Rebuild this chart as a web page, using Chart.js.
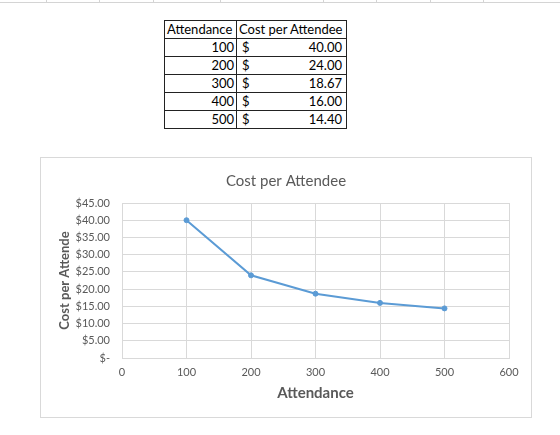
<!DOCTYPE html>
<html>
<head>
<meta charset="utf-8">
<script src="https://cdn.jsdelivr.net/npm/chart.js@4.4.1/dist/chart.umd.min.js"></script>
<style>
    body { margin: 0; background: #fff; width: 560px; height: 435px; overflow: hidden; position: relative; font-family: Lato, 'Open Sans', sans-serif; }
    .sheet-top { position: absolute; left: 0; top: 0; width: 560px; height: 2px; border-bottom: 1px solid #d4d4d4; }
    .sheet-top i { position: absolute; top: 0; width: 1px; height: 2px; background: #d4d4d4; }
    table { position: absolute; left: 164px; top: 20px; border-collapse: collapse; font-size: 13px; color: #000; }
    td { border: 1px solid #222; height: 17px; padding: 0 2px; line-height: 17px; white-space: nowrap; }
    td.att { width: 67px; text-align: right; }
    td.cost { width: 100px; padding-left: 5px; padding-right: 4px; }
    td.cost .cur { float: left; }
    td.cost .val { float: right; }
    .chart-box { position: absolute; left: 40px; top: 157px; width: 490px; height: 259px; border: 1px solid #d9d9d9; background: #fff; }
</style>
</head>
<body>
<div class="sheet-top" id="sheetTop"></div>
<table id="dataTable"></table>
<div class="chart-box">
    <canvas id="costChart" width="490" height="259"></canvas>
</div>
<script>
// Chart data
const attendance = [100, 200, 300, 400, 500];
const costPerAttendee = [40.00, 24.00, 18.67, 16.00, 14.40];
const xTicks = [0, 100, 200, 300, 400, 500, 600];
const yTicks = [0, 5, 10, 15, 20, 25, 30, 35, 40, 45];
const chartTitle = 'Cost per Attendee';

const lineColor = '#5B9BD5';
const textColor = '#595959';
const gridColor = '#D9D9D9';

// Spreadsheet column separators along the top edge
const colEdges = [46, 99, 153, 220, 323, 376, 430, 483];
document.getElementById('sheetTop').innerHTML = colEdges.map(x => `<i style="left:${x}px"></i>`).join('');

// Data table above the chart
const table = document.getElementById('dataTable');
table.innerHTML = `<tr><td>Attendance</td><td style="padding-left:2px">Cost per Attendee</td></tr>` +
    attendance.map((a, i) => `
        <tr>
            <td class="att">${a}</td>
            <td class="cost"><span class="cur">$</span><span class="val">${costPerAttendee[i].toFixed(2)}</span></td>
        </tr>
    `).join('');

// Title centred on the whole chart box (the built-in one centres on the padded area)
const centerTitle = {
    id: 'centerTitle',
    afterDraw(chart) {
        const c = chart.ctx;
        c.save();
        c.fillStyle = textColor;
        c.font = '15px Lato';
        c.textAlign = 'center';
        c.textBaseline = 'middle';
        c.fillText(chartTitle, chart.width / 2, 23);
        c.restore();
    }
};

const ctx = document.getElementById('costChart').getContext('2d');
new Chart(ctx, {
    type: 'line',
    data: {
        datasets: [{
            label: chartTitle,
            data: attendance.map((a, i) => ({ x: a, y: costPerAttendee[i] })),
            borderColor: lineColor,
            backgroundColor: lineColor,
            borderWidth: 2,
            pointRadius: 2.5,
            pointBorderWidth: 1,
            pointHoverRadius: 2.5,
            tension: 0
        }]
    },
    plugins: [centerTitle],
    options: {
        responsive: false,
        animation: false,
        layout: { padding: { left: 0, right: 22, top: 45, bottom: 0 } },
        plugins: {
            legend: { display: false },
            tooltip: { enabled: false },
            title: { display: false }
        },
        scales: {
            x: {
                type: 'linear',
                min: xTicks[0],
                max: xTicks[xTicks.length - 1],
                afterBuildTicks: (scale) => { scale.ticks = xTicks.map(v => ({ value: v })); },
                afterFit: (scale) => { scale.height = 59; },
                grid: { color: gridColor, drawTicks: false },
                border: { color: gridColor },
                ticks: {
                    color: textColor,
                    padding: 8,
                    font: { family: 'Lato', size: 11 }
                },
                title: {
                    display: true,
                    text: 'Attendance',
                    color: textColor,
                    font: { family: 'Lato', size: 15, weight: 'bold' },
                    padding: { top: 0, bottom: 15 }
                }
            },
            y: {
                min: yTicks[0],
                max: yTicks[yTicks.length - 1],
                afterBuildTicks: (scale) => { scale.ticks = yTicks.map(v => ({ value: v })); },
                afterFit: (scale) => { scale.width = 81; },
                grid: { color: gridColor, drawTicks: false },
                border: { color: gridColor },
                ticks: {
                    color: textColor,
                    padding: 12,
                    font: { family: 'Lato', size: 11 },
                    callback: (value) => value === 0 ? '$-' : '$' + value.toFixed(2)
                },
                title: {
                    display: true,
                    text: 'Cost per Attende',
                    color: textColor,
                    font: { family: 'Lato', size: 13, weight: 'bold' },
                    padding: { top: 16, bottom: 0 }
                }
            }
        }
    }
});
</script>
</body>
</html>
